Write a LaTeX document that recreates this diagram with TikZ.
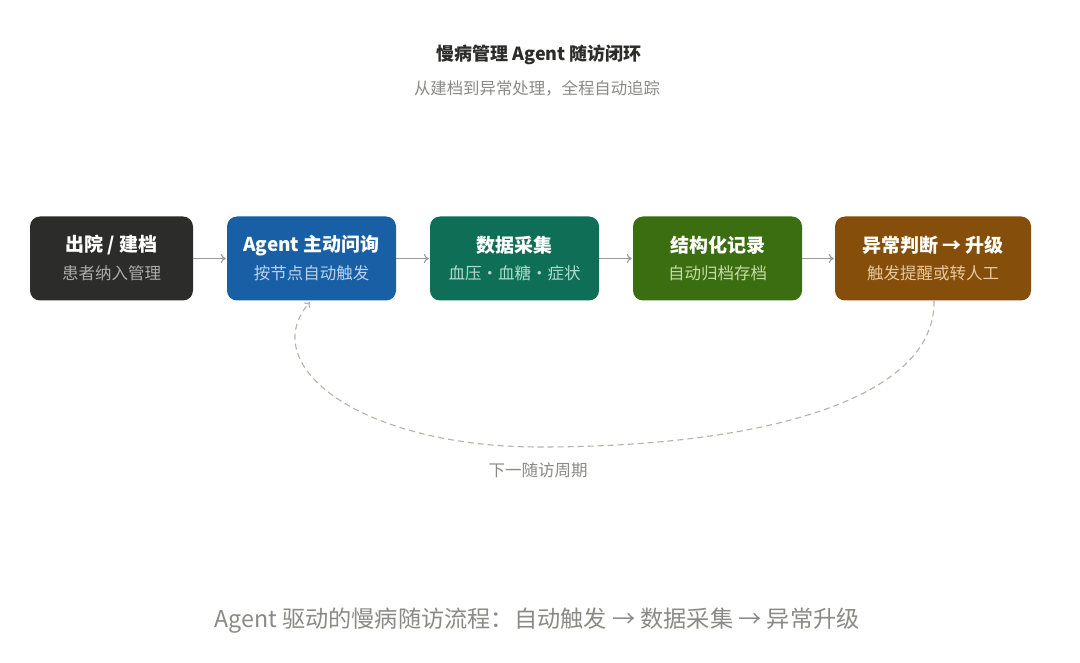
\documentclass[tikz,border=0pt]{standalone}
\usepackage{fontspec}
\setmainfont{Noto Sans CJK SC}
\usetikzlibrary{arrows.meta}
\definecolor{cdark}{HTML}{2C2C2A}
\definecolor{cblue}{HTML}{185FA5}
\definecolor{cteal}{HTML}{0F6E56}
\definecolor{colive}{HTML}{3B6D11}
\definecolor{cbrown}{HTML}{854F0B}
\definecolor{sdark}{HTML}{ABABA8}
\definecolor{sblue}{HTML}{BAD3EE}
\definecolor{steal}{HTML}{ADDCCB}
\definecolor{solive}{HTML}{C6DCA6}
\definecolor{sbrown}{HTML}{E6C99E}
\definecolor{ctitle}{HTML}{2C2C2A}
\definecolor{cgray}{HTML}{8A8A86}
\definecolor{cline}{HTML}{9A9A96}
\definecolor{cdash}{HTML}{B4B2A9}
\tikzset{
  box/.style={rounded corners=10pt, minimum height=84pt, inner sep=0pt, draw=none},
  btitle/.style={text=white, font=\fontsize{19}{22}\selectfont\bfseries, inner sep=0pt, anchor=center},
  bsub/.style={font=\fontsize{16.5}{19}\selectfont, inner sep=0pt, anchor=center},
  flow/.style={draw=cline, line width=1.1pt, -{To[length=5pt,width=9pt]}},
  loopline/.style={draw=cdash, line width=1.1pt, dash pattern=on 6pt off 4pt, -{To[length=5pt,width=8pt]}},
}
\begin{document}
\begin{tikzpicture}[x=1pt,y=-1pt]
\useasboundingbox[fill=white] (0,0) rectangle (1080,663);
% title
\node[font=\fontsize{18}{21}\selectfont\bfseries, text=ctitle] (title) at (539,55) {慢病管理 Agent 随访闭环};
\node[font=\fontsize{16.4}{19}\selectfont, text=cgray] (subtitle) at (537,88) {从建档到异常处理，全程自动追踪};
% boxes
\node[box, fill=cdark, minimum width=163pt] (b1) at (111.5,258.5) {};
\node[box, fill=cblue, minimum width=169pt] (b2) at (311.5,258.5) {};
\node[box, fill=cteal, minimum width=169pt] (b3) at (514.5,258.5) {};
\node[box, fill=colive, minimum width=169pt] (b4) at (717.5,258.5) {};
\node[box, fill=cbrown, minimum width=196pt] (b5) at (933,258.5) {};
% box texts
\node[btitle] (b1t) at ([yshift=13pt]b1.center) {出院 / 建档};
\node[bsub, text=sdark] (b1s) at ([yshift=-14.5pt]b1.center) {患者纳入管理};
\node[btitle] (b2t) at ([yshift=13pt]b2.center) {Agent 主动问询};
\node[bsub, text=sblue] (b2s) at ([yshift=-14.5pt]b2.center) {按节点自动触发};
\node[btitle] (b3t) at ([yshift=13pt]b3.center) {数据采集};
\node[bsub, text=steal] (b3s) at ([yshift=-14.5pt]b3.center) {血压・血糖・症状};
\node[btitle] (b4t) at ([yshift=13pt]b4.center) {结构化记录};
\node[bsub, text=solive] (b4s) at ([yshift=-14.5pt]b4.center) {自动归档存档};
\node[btitle] (b5t) at ([yshift=13pt]b5.center) {异常判断 → 升级};
\node[bsub, text=sbrown] (b5s) at ([yshift=-14.5pt]b5.center) {触发提醒或转人工};
% flow arrows
\draw[flow] (b1.east) -- ([xshift=-1pt]b2.west);
\draw[flow] (b2.east) -- ([xshift=-1pt]b3.west);
\draw[flow] (b3.east) -- ([xshift=-1pt]b4.west);
\draw[flow] (b4.east) -- ([xshift=-1pt]b5.west);
% loop back
\coordinate (lstart) at (934,300.5);
\coordinate (lmid) at (540,447);
\coordinate (lend) at (310,302);
\draw[loopline] (lstart) .. controls (936,400) and (760,447) .. (lmid)
  .. controls (360,447) and (255,365) .. (lend);
\node[font=\fontsize{16.5}{19}\selectfont, text=cgray] (looplabel) at (538,470) {下一随访周期};
% bottom caption
\node[font=\fontsize{23.2}{27}\selectfont, text=cgray] (caption) at (537,621) {Agent 驱动的慢病随访流程：自动触发 → 数据采集 → 异常升级};
\end{tikzpicture}
\end{document}
